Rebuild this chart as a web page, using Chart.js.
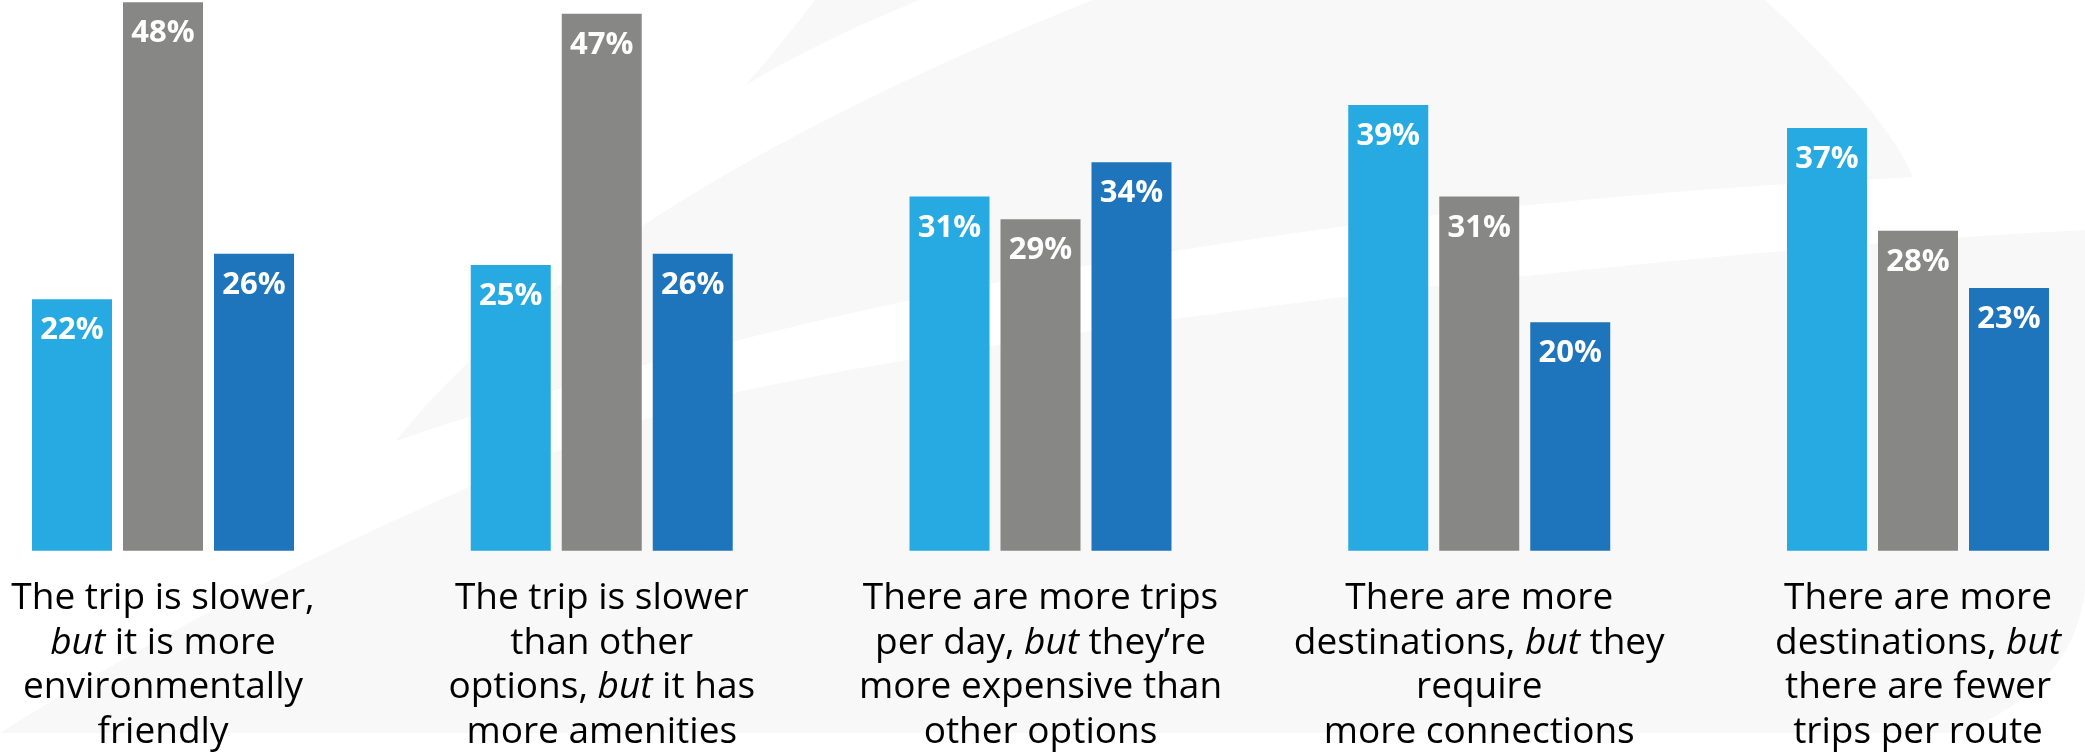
<!DOCTYPE html>
<html>
<head>
<meta charset="utf-8">
<title>Trade-offs</title>
<script src="https://cdn.jsdelivr.net/npm/chart.js@4/dist/chart.umd.min.js"></script>
<style>
  html, body { margin: 0; padding: 0; background: #ffffff; overflow: hidden; }
  #wrap { width: 2085px; height: 752px; position: relative; }
  canvas { display: block; }
</style>
</head>
<body>
<div id="wrap"><canvas id="chart" width="2085" height="752"></canvas></div>
<script>
// Category captions, one array of lines per group; *word* marks italic text.
const categories = ['slower-greener', 'slower-amenities', 'trips-expensive', 'destinations-connections', 'destinations-fewer'];
const categoryLines = [
  ['The trip is slower,', '*but* it is more', 'environmentally', 'friendly'],
  ['The trip is slower', 'than other', 'options, *but* it has', 'more amenities'],
  ['There are more trips', 'per day, *but* they\u2019re', 'more expensive than', 'other options'],
  ['There are more', 'destinations, *but* they', 'require', 'more connections'],
  ['There are more', 'destinations, *but*', 'there are fewer', 'trips per route']
];

// Percent shares for the three response groups
const seriesA = [22, 25, 31, 39, 37];
const seriesB = [48, 47, 29, 31, 28];
const seriesC = [26, 26, 34, 20, 23];

const COLORS = ['#27a9e1', '#878786', '#1f75bb'];
const FONT = '"Open Sans", "Noto Sans", sans-serif';

// Faint swoosh artwork painted behind the bars
const backdrop = {
  id: 'backdrop',
  beforeDraw(chart) {
    const ctx = chart.ctx;
    ctx.save();
    ctx.fillStyle = '#ffffff';
    ctx.fillRect(0, 0, chart.width, chart.height);
    ctx.fillStyle = '#f8f8f8';

    // thin top wedge
    ctx.beginPath();
    ctx.moveTo(815, 0);
    ctx.lineTo(920, 0);
    ctx.quadraticCurveTo(820, 40, 746, 85);
    ctx.quadraticCurveTo(785, 40, 815, 0);
    ctx.closePath();
    ctx.fill();

    // upper sweep
    ctx.beginPath();
    ctx.moveTo(1093, 0);
    ctx.quadraticCurveTo(587, 201, 396, 441);
    ctx.bezierCurveTo(896, 271, 1413, 201, 1913, 177);
    ctx.quadraticCurveTo(1885, 111, 1765, 0);
    ctx.closePath();
    ctx.fill();

    // lower body
    ctx.beginPath();
    ctx.moveTo(0, 733);
    ctx.bezierCurveTo(250, 576, 550, 440, 733, 393);
    ctx.bezierCurveTo(1000, 335, 1600, 255, 2085, 230);
    ctx.lineTo(2085, 550);
    ctx.quadraticCurveTo(2097, 678, 1960, 733);
    ctx.closePath();
    ctx.fill();
    ctx.restore();
  }
};

// White percentage labels inside the top of each bar
const valueLabels = {
  id: 'valueLabels',
  afterDatasetsDraw(chart) {
    const ctx = chart.ctx;
    ctx.save();
    ctx.fillStyle = '#ffffff';
    ctx.font = 'bold 31px ' + FONT;
    ctx.textAlign = 'center';
    ctx.textBaseline = 'alphabetic';
    chart.data.datasets.forEach((ds, di) => {
      const meta = chart.getDatasetMeta(di);
      meta.data.forEach((bar, i) => {
        ctx.fillText(ds.data[i] + '%', bar.x, bar.y + 40);
      });
    });
    ctx.restore();
  }
};

// Multi-line captions under each group, with italic runs
const captions = {
  id: 'captions',
  afterDraw(chart) {
    const ctx = chart.ctx;
    const xs = chart.scales.x;
    const base = chart.chartArea.bottom + 58.3;
    const lineH = 44.7;
    const regular = '37px ' + FONT;
    const italic = 'italic 37px ' + FONT;
    ctx.save();
    ctx.fillStyle = '#000000';
    ctx.textBaseline = 'alphabetic';
    ctx.textAlign = 'left';
    categoryLines.forEach((lines, ci) => {
      const cx = xs.getPixelForValue(ci);
      lines.forEach((line, li) => {
        const parts = line.split('*').map((t, k) => ({ text: t, font: k % 2 ? italic : regular }))
          .filter(p => p.text.length);
        let total = 0;
        parts.forEach(p => { ctx.font = p.font; p.w = ctx.measureText(p.text).width; total += p.w; });
        let x = cx - total / 2;
        const y = base + li * lineH;
        parts.forEach(p => { ctx.font = p.font; ctx.fillText(p.text, x, y); x += p.w; });
      });
    });
    ctx.restore();
  }
};

const mkSet = (label, data, color) => ({
  label, data,
  backgroundColor: color,
  borderWidth: 0,
  barPercentage: 0.879,
  categoryPercentage: 0.6222,
  clip: false
});

new Chart(document.getElementById('chart'), {
  type: 'bar',
  data: {
    labels: categories,
    datasets: [
      mkSet('Series A', seriesA, COLORS[0]),
      mkSet('Series B', seriesB, COLORS[1]),
      mkSet('Series C', seriesC, COLORS[2])
    ]
  },
  options: {
    responsive: false,
    animation: false,
    events: [],
    layout: { padding: { left: 163, right: 167, top: 0, bottom: 201.3 } },
    plugins: { legend: { display: false }, tooltip: { enabled: false }, title: { display: false } },
    scales: {
      x: { display: false, offset: false, grid: { display: false } },
      y: { display: false, min: 0, max: 48.2, grid: { display: false } }
    }
  },
  plugins: [backdrop, valueLabels, captions]
});
</script>
</body>
</html>
